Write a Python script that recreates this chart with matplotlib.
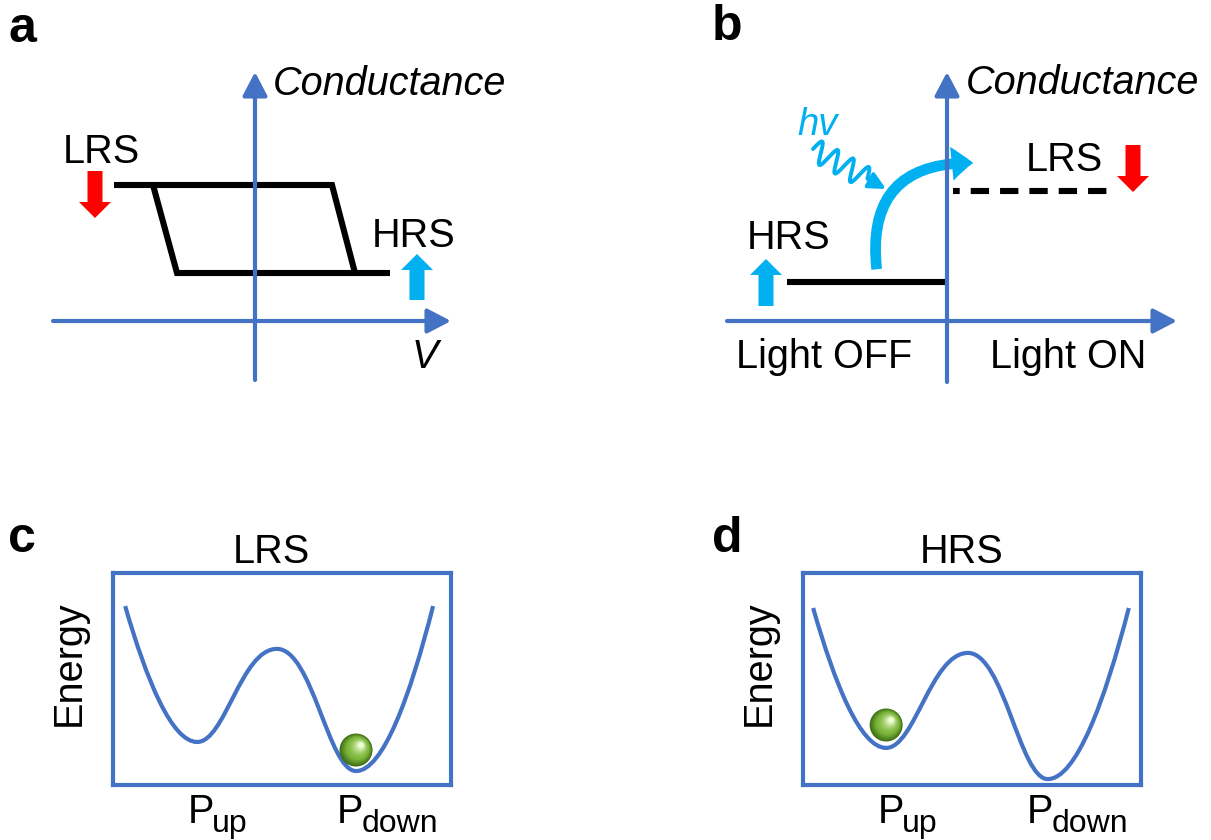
import numpy as np
import matplotlib.pyplot as plt
from matplotlib.patches import FancyArrow, FancyArrowPatch, Ellipse, PathPatch
from matplotlib.path import Path
from matplotlib.colors import to_rgb

plt.rcParams['font.family'] = ['Liberation Sans', 'DejaVu Sans']

BLUE = '#4472C4'
RED = '#FF0000'
CYAN = '#00B0F0'
FS = 28.5
MS = 12.5  # arrow mutation scale in points

# panel a: conductance hysteresis (V, G)
g_lrs_a, g_hrs_a = 1.36, 0.48
v_lrs_a = [-1.41, 0.77]
v_hrs_a = [-0.78, 1.35]
v_set = [-1.02, -0.78]     # left slope, top -> bottom
v_reset = [0.77, 1.00]     # right slope, top -> bottom

# panel b: light off / light on levels
v_off, g_off = [-1.60, 0.0], 0.39
v_on, g_on = [0.06, 1.66], 1.30

# panels c, d: energy landscapes (start, well P_up, barrier, well P_down, end)
lrs_x = [0.036, 0.249, 0.485, 0.719, 0.947]
lrs_e = [0.844, 0.203, 0.642, 0.066, 0.844]
hrs_x = [0.030, 0.246, 0.488, 0.724, 0.964]
hrs_e = [0.835, 0.175, 0.623, 0.028, 0.835]
ball_lrs = (0.719, 0.165)
ball_hrs = (0.246, 0.283)

W, H = 1211, 840
fig = plt.figure(figsize=(W / 100, H / 100), dpi=100)


def px_axes(left, top, right, bottom):
    return fig.add_axes([left / W, 1 - bottom / H, (right - left) / W, (bottom - top) / H])


def axis_arrow(ax, start, end):
    ax.annotate('', xy=end, xytext=start,
                arrowprops=dict(arrowstyle='-|>,head_length=1.15,head_width=0.6',
                                color=BLUE, lw=3, shrinkA=0, shrinkB=0, mutation_scale=MS))


def block_arrow(ax, x, y0, y1, color):
    ax.add_patch(FancyArrow(x, y0, 0, y1 - y0, width=0.15, head_width=0.32, head_length=0.16,
                            length_includes_head=True, color=color, lw=0))


def well_path(xs, es):
    verts = [(xs[0], es[0])]
    codes = [Path.MOVETO]
    for i in range(4):
        x0, y0, x1, y1 = xs[i], es[i], xs[i + 1], es[i + 1]
        dx = x1 - x0
        if i == 0:
            c1, c2 = (x0 + 0.3 * dx, y0 - 0.55 * (y0 - y1)), (x1 - 0.35 * dx, y1)
        elif i == 3:
            c1, c2 = (x0 + 0.35 * dx, y0), (x1 - 0.3 * dx, y1 - 0.55 * (y1 - y0))
        else:
            h0 = 0.35 if y0 < y1 else 0.45
            h1 = 0.45 if y0 < y1 else 0.35
            c1, c2 = (x0 + h0 * dx, y0), (x1 - h1 * dx, y1)
        verts += [c1, c2, (x1, y1)]
        codes += [Path.CURVE4] * 3
    return Path(verts, codes)


def ball(ax, center, r_px, box_w, box_h):
    dark, base, light = np.array(to_rgb('#416f16')), np.array(to_rgb('#7cb63a')), np.array(to_rgb('#f0ffd6'))
    n = 16
    for k in range(n):
        t = k / (n - 1)
        if t <= 0.35:
            col = dark + (base - dark) * (t / 0.35)
        else:
            col = base + (light - base) * ((t - 0.35) / 0.65) ** 1.6
        rr = r_px * (1 - 0.85 * t)
        cx = center[0] + 0.3 * r_px * t / box_w
        cy = center[1] + 0.3 * r_px * t / box_h
        ax.add_patch(Ellipse((cx, cy), 2 * rr / box_w, 2 * rr / box_h, color=col, lw=0, zorder=5 + k * 0.01))


# ---- panel a ----
ax = px_axes(0, 0, 600, 430)
ax.set_xlim(-2.55, 3.45)
ax.set_ylim(-1.09, 3.21)
ax.axis('off')
axis_arrow(ax, (0, -0.59), (0, 2.49))
axis_arrow(ax, (-2.02, 0), (1.96, 0))
loop_kw = dict(color='black', lw=4.4, solid_capstyle='butt', solid_joinstyle='miter')
ax.plot([v_lrs_a[0], v_lrs_a[1], v_reset[1]], [g_lrs_a, g_lrs_a, g_hrs_a], **loop_kw)
ax.plot([v_set[0], v_set[1], v_hrs_a[1]], [g_lrs_a, g_hrs_a, g_hrs_a], **loop_kw)
block_arrow(ax, -1.60, 1.50, 1.03, RED)
block_arrow(ax, 1.62, 0.21, 0.67, CYAN)
ax.text(0.18, 2.26, 'Conductance', fontsize=FS, style='italic', va='baseline')
ax.text(-1.92, 1.58, 'LRS', fontsize=FS, va='baseline')
ax.text(1.17, 0.74, 'HRS', fontsize=FS, va='baseline')
ax.text(1.57, -0.47, 'V', fontsize=FS, style='italic', va='baseline')

# ---- panel b ----
ax = px_axes(605, 0, 1211, 430)
ax.set_xlim(-3.42, 2.64)
ax.set_ylim(-1.09, 3.21)
ax.axis('off')
axis_arrow(ax, (0, -0.61), (0, 2.49))
axis_arrow(ax, (-2.20, 0), (2.30, 0))
ax.plot(v_off, [g_off, g_off], color='black', lw=4.4, solid_capstyle='butt')
ax.plot(v_on, [g_on, g_on], color='black', lw=4.4, linestyle=(1.9, (3.0, 1.8)), dash_capstyle='butt')
block_arrow(ax, 1.86, 1.76, 1.29, RED)
block_arrow(ax, -1.81, 0.15, 0.62, CYAN)
ax.text(0.19, 2.27, 'Conductance', fontsize=FS, style='italic', va='baseline')
ax.text(0.79, 1.50, 'LRS', fontsize=FS, va='baseline')
ax.text(-2.00, 0.72, 'HRS', fontsize=FS, va='baseline')
ax.text(-2.11, -0.47, 'Light OFF', fontsize=FS, va='baseline')
ax.text(0.43, -0.47, 'Light ON', fontsize=FS, va='baseline')
ax.text(-1.50, 1.86, 'hv', fontsize=FS - 1, style='italic', color=CYAN, va='baseline')

# photon squiggle
p0, p1 = np.array([-1.34, 1.72]), np.array([-0.70, 1.37])
seg = p1 - p0
length = np.hypot(*seg)
d = seg / length
nrm = np.array([-d[1], d[0]])
s = np.linspace(0, 1, 300)
amp = 0.11 * np.sin(2 * np.pi * 3.5 * s / 0.85) * (s < 0.85)
pts = p0 + np.outer(s * length, d) + np.outer(amp, nrm)
ax.plot(pts[:, 0], pts[:, 1], color=CYAN, lw=2.8, solid_joinstyle='round', solid_capstyle='round')
ax.annotate('', xy=(-0.61, 1.32), xytext=(-0.71, 1.375),
            arrowprops=dict(arrowstyle='-|>,head_length=0.8,head_width=0.4', color=CYAN,
                            lw=2.8, shrinkA=0, shrinkB=0, mutation_scale=MS))

# transition arrow HRS -> LRS
ax.add_patch(FancyArrowPatch((-0.70, 0.49), (0.29, 1.58), connectionstyle='arc3,rad=-0.58',
                             arrowstyle='simple,head_length=1.1,head_width=1.75,tail_width=0.55',
                             mutation_scale=14, color=CYAN, lw=0))

# ---- panels c and d ----
box_w, box_h = 338, 212
for left, title, xs, es, bpos in [(113, 'LRS', lrs_x, lrs_e, ball_lrs),
                                  (803, 'HRS', hrs_x, hrs_e, ball_hrs)]:
    ax = px_axes(left, 573, left + box_w, 573 + box_h)
    ax.set_xlim(0, 1)
    ax.set_ylim(0, 1)
    ax.set_xticks([])
    ax.set_yticks([])
    for sp in ax.spines.values():
        sp.set_color(BLUE)
        sp.set_linewidth(3)
    ax.add_patch(PathPatch(well_path(xs, es), fill=False, edgecolor=BLUE, lw=3.0))
    ball(ax, bpos, 16.5, box_w, box_h)
    ax.text(0.47, 1.047, title, fontsize=FS, ha='center', va='baseline', transform=ax.transAxes)
    ax.text(-0.098, 0.575, 'Energy', fontsize=FS, rotation=90, rotation_mode='anchor',
            ha='center', va='baseline', transform=ax.transAxes)
    for x0, sub in [(0.222, 'up'), (0.663, 'down')]:
        ax.text(x0, -0.179, 'P', fontsize=FS, va='baseline', transform=ax.transAxes)
        ax.text(x0 + 0.072, -0.222, sub, fontsize=23, va='baseline', transform=ax.transAxes)

# panel letters
for x, y, lab in [(9, 42, 'a'), (712, 40, 'b'), (8, 552, 'c'), (712, 552, 'd')]:
    fig.text(x / W, 1 - y / H, lab, fontsize=36, fontweight='bold', va='baseline')

fig.savefig('out.png', dpi=100)
